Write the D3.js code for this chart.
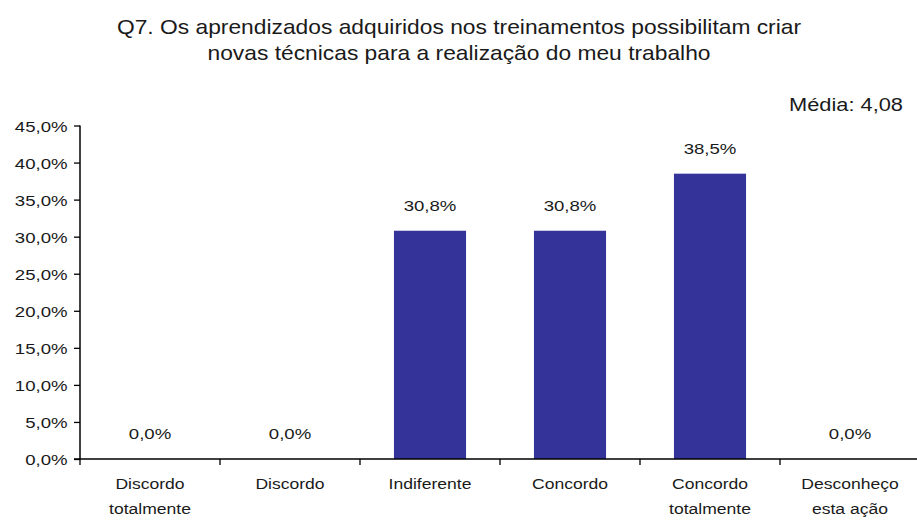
<!DOCTYPE html>
<html>
<head>
<meta charset="utf-8">
<script src="https://cdn.jsdelivr.net/npm/d3@7"></script>
<style>
  html, body { margin: 0; padding: 0; background: #fff; }
  svg { display: block; }
  text { font-family: "Liberation Sans", Arial, sans-serif; fill: #1a1a1a; }
</style>
</head>
<body>
<svg id="chart" width="917" height="520"></svg>
<script>
// Response categories (two-line labels) and percentage of answers
const categories = [
  ["Discordo", "totalmente"],
  ["Discordo"],
  ["Indiferente"],
  ["Concordo"],
  ["Concordo", "totalmente"],
  ["Desconheço", "esta ação"]
];
const values = [0.0, 0.0, 30.8, 30.8, 38.5, 0.0];
const yTicks = [0, 5, 10, 15, 20, 25, 30, 35, 40, 45];
const titleLines = [
  "Q7. Os aprendizados adquiridos nos treinamentos possibilitam criar",
  "novas técnicas para a realização do meu trabalho"
];
const meanLabel = "Média: 4,08";

const svg = d3.select("#chart");
const margin = { left: 80, top: 125.5, bottom: 459 };
const step = 140;
const plotRight = margin.left + step * categories.length;

const fmt = v => v.toFixed(1).replace(".", ",") + "%";

// Text in this chart is set slightly wide; place it with a horizontal stretch
function placeText(sel, fx, fy, sx) {
  sel.attr("x", 0).attr("y", 0)
    .attr("transform", (d, i) => `translate(${fx(d, i)},${fy(d, i)}) scale(${sx},1)`);
}

const x = d3.scaleBand()
  .domain(d3.range(categories.length))
  .range([margin.left, plotRight])
  .paddingInner(0.485)
  .paddingOuter(0.2425);

const y = d3.scaleLinear()
  .domain([0, 45])
  .range([margin.bottom, margin.top]);

// Title
svg.append("g").selectAll("text")
  .data(titleLines)
  .join("text")
  .attr("text-anchor", "middle")
  .style("font-size", "20px")
  .text(d => d)
  .call(placeText, () => 459, (d, i) => 34 + i * 26, 1.14);

// Mean annotation
svg.append("text")
  .datum(meanLabel)
  .attr("text-anchor", "end")
  .style("font-size", "18.5px")
  .text(d => d)
  .call(placeText, () => 903, () => 111, 1.18);

// Bars
svg.append("g").selectAll("rect")
  .data(values)
  .join("rect")
  .attr("x", (d, i) => x(i))
  .attr("width", x.bandwidth())
  .attr("y", d => y(d))
  .attr("height", d => y(0) - y(d))
  .attr("fill", "#333399");

// Value labels
svg.append("g").selectAll("text")
  .data(values)
  .join("text")
  .attr("text-anchor", "middle")
  .style("font-size", "15.5px")
  .text(d => fmt(d))
  .call(placeText, (d, i) => x(i) + x.bandwidth() / 2, d => y(d) - 20, 1.2);

// Y axis
const yAxis = svg.append("g")
  .attr("transform", `translate(${margin.left},0)`)
  .call(d3.axisLeft(y).tickValues(yTicks).tickSize(6).tickPadding(6).tickFormat(d => fmt(d)));
yAxis.select(".domain").attr("stroke", "#000").attr("stroke-width", 1.5).attr("d", `M0,${margin.top}V${margin.bottom}`);
yAxis.selectAll(".tick line").attr("stroke", "#000").attr("stroke-width", 1.3);
yAxis.selectAll(".tick text")
  .style("font-size", "15.5px")
  .style("font-family", "'Liberation Sans', Arial, sans-serif")
  .attr("fill", "#1a1a1a")
  .attr("dy", null)
  .call(placeText, () => -12.5, () => 5.5, 1.2);

// X axis: baseline with tick marks between categories
const bounds = d3.range(categories.length + 1).map(i => margin.left + i * step);
const xAxis = svg.append("g");
xAxis.append("line")
  .attr("x1", margin.left - 6).attr("x2", plotRight)
  .attr("y1", y(0)).attr("y2", y(0))
  .attr("stroke", "#000").attr("stroke-width", 1.5);
xAxis.selectAll("line.tk")
  .data(bounds)
  .join("line")
  .attr("class", "tk")
  .attr("x1", d => d).attr("x2", d => d)
  .attr("y1", y(0)).attr("y2", y(0) + 6)
  .attr("stroke", "#000").attr("stroke-width", 1.3);

// Category labels
const catLines = categories.flatMap((c, i) => c.map((line, j) => ({ line, i, j })));
svg.append("g").selectAll("text")
  .data(catLines)
  .join("text")
  .attr("text-anchor", "middle")
  .style("font-size", "15px")
  .text(d => d.line)
  .call(placeText, d => margin.left + d.i * step + step / 2, d => 489 + d.j * 25, 1.17);
</script>
</body>
</html>
